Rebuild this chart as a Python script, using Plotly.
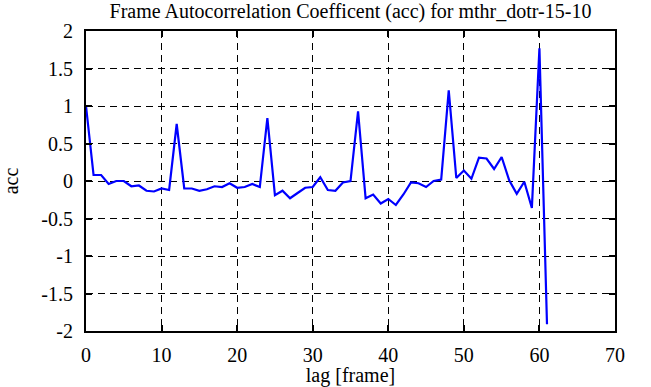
import plotly.graph_objects as go

lag = list(range(62))
acc = [1.00, 0.08, 0.08, -0.04, 0.00, 0.00, -0.07, -0.06, -0.13, -0.14,
       -0.10, -0.12, 0.76, -0.10, -0.10, -0.13, -0.11, -0.07, -0.08, -0.03,
       -0.09, -0.08, -0.04, -0.08, 0.84, -0.19, -0.13, -0.23, -0.16, -0.09,
       -0.08, 0.05, -0.12, -0.13, -0.02, 0.00, 0.93, -0.23, -0.18, -0.30,
       -0.24, -0.32, -0.18, -0.02, -0.03, -0.08, 0.00, 0.02, 1.21, 0.04,
       0.14, 0.03, 0.31, 0.30, 0.16, 0.32, 0.01, -0.17, -0.01, -0.36,
       1.77, -1.91]

x_ticks = [0, 10, 20, 30, 40, 50, 60, 70]
x_ticklabels = ["0", "10", "20", "30", "40", "50", "60", "70"]
y_ticks = [2, 1.5, 1, 0.5, 0, -0.5, -1, -1.5, -2]
y_ticklabels = ["2", "1.5", "1", "0.5", "0", "-0.5", "-1", "-1.5", "-2"]

title_text = "Frame Autocorrelation Coefficent (acc) for mthr_dotr-15-10"
x_label = "lag [frame]"
y_label = "acc"

font_family = "Liberation Serif"
fsize = 20

fig = go.Figure()
fig.add_trace(go.Scatter(x=lag, y=acc, mode="lines",
                         line=dict(color="#0000ff", width=2.2),
                         showlegend=False))

axis_common = dict(
    showline=True, linecolor="black", linewidth=2, mirror="ticks",
    ticks="inside", ticklen=6, tickwidth=1.5, tickcolor="black",
    showgrid=True, gridcolor="black", gridwidth=1, griddash="7px,5px",
    zeroline=False, tickfont=dict(family=font_family, size=fsize, color="black"),
    tickmode="array", automargin=False,
)

fig.update_xaxes(range=[0, 70], tickvals=x_ticks, ticktext=x_ticklabels,
                 ticklabelstandoff=5,
                 title=dict(text=x_label, font=dict(family=font_family, size=fsize, color="black"), standoff=4),
                 **axis_common)
fig.update_yaxes(range=[-2, 2], tickvals=y_ticks, ticktext=y_ticklabels,
                 ticklabelstandoff=7,
                 title=dict(text=y_label, font=dict(family=font_family, size=fsize, color="black"), standoff=22),
                 **axis_common)

fig.update_layout(
    width=651, height=387,
    margin=dict(l=86, r=36, t=31, b=56),
    paper_bgcolor="white", plot_bgcolor="white",
    font=dict(family=font_family, color="black"),
    title=dict(text=title_text, x=0.5, xref="paper", xanchor="center",
               y=0.99, yanchor="top",
               font=dict(family=font_family, size=fsize, color="black")),
)

fig.write_html("out.html", config={"displayModeBar": False},
               post_script="document.body.style.margin='0';document.body.style.overflow='hidden';")
